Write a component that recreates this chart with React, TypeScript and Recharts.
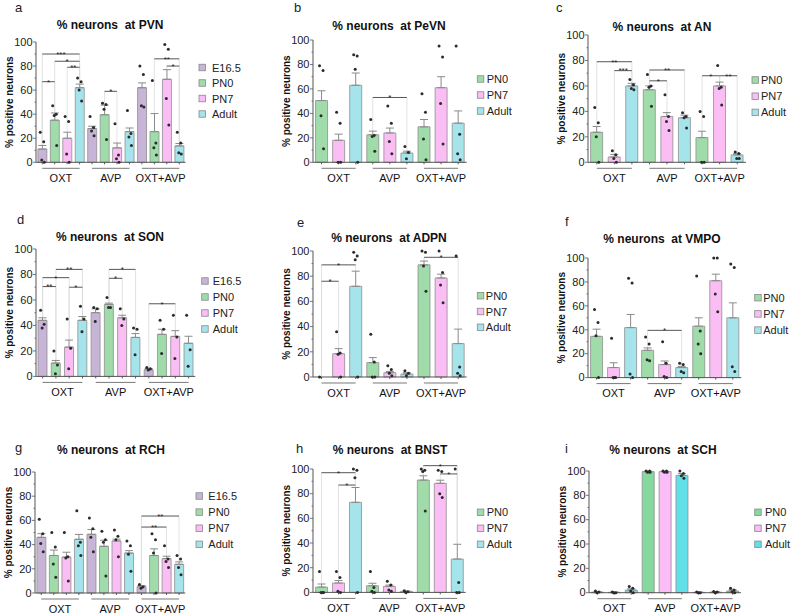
import React from "react";
import {
  ComposedChart,
  Bar,
  Cell,
  ErrorBar,
  Scatter,
  XAxis,
  YAxis,
  ReferenceLine,
} from "recharts";

// categories
const GROUPS = ["OXT", "AVP", "OXT+AVP"];
const AGES_4 = ["E16.5", "PN0", "PN7", "Adult"];
const AGES_3 = ["PN0", "PN7", "Adult"];
const Y_TICKS = [0, 10, 20, 30, 40, 50, 60, 70, 80, 90, 100];

// a: PVN  (rows = groups, cols = ages)
const pvnMean = [[11, 35, 20, 62], [28, 39.5, 12, 25.5], [62, 25.5, 69, 13.6]];
const pvnSem = [[3, 6, 5, 3], [2, 8, 4, 3], [4, 15, 8, 2]];
const pvnPts = [
  [[25, 17, 2, 0], [47, 40, 39, 14], [38, 34, 7, 0], [70, 67, 60, 51]],
  [[38, 29, 26, 22], [49, 48, 44, 19], [32, 6, 3, 0], [43, 24, 21, 14]],
  [[80, 73, 47, 46], [68, 16, 12, 6], [98, 94, 53, 31], [25, 16, 8, 7]],
];
const pvnSig: [number, number, number, number, string][] = [
  [0, 0, 3, 90, "***"], [0, 0, 1, 67, "*"], [0, 1, 3, 84, "*"], [0, 2, 3, 79, "**"],
  [1, 1, 2, 59, "*"], [2, 1, 3, 86, "**"], [2, 2, 3, 80, "*"],
];

// b: PeVN
const pevnMean = [[50.5, 18, 63], [22.5, 24, 7.6], [29, 61, 32]];
const pevnSem = [[8, 5, 10], [3, 4, 1.5], [6, 9, 10]];
const pevnPts = [
  [[79, 75, 38, 11], [41, 32, 0, 0], [88, 87, 76, 0]],
  [[35, 22, 21, 9], [46, 32, 17, 7], [13, 8, 3]],
  [[56, 41, 19, 2], [95, 86, 48, 15], [95, 23, 7, 2]],
];
const pevnSig: [number, number, number, number, string][] = [[1, 0, 2, 53, "*"]];

// c: AN
const anMean = [[23.6, 4.2, 60], [57, 36, 35], [19.4, 60, 5.8]];
const anSem = [[4.5, 2, 2], [3, 3, 2], [5, 3, 1]];
const anPts = [
  [[43, 31, 20, 0], [9, 6, 3, 0], [65, 61, 58, 57]],
  [[69, 60, 59, 44], [53, 36, 32, 25], [39, 36, 35, 27]],
  [[40, 36, 0, 0], [76, 59, 58, 45], [8, 7, 3, 3]],
];
const anSig: [number, number, number, number, string][] = [
  [0, 0, 2, 79, "**"], [0, 1, 2, 72, "***"], [1, 0, 1, 64, "*"], [1, 0, 2, 72.5, "**"],
  [2, 0, 1, 68, "*"], [2, 1, 2, 68, "**"],
];

// d: SON
const sonMean = [[44, 10.5, 23, 44], [50, 56.5, 46, 30.6], [5.2, 33, 31.4, 26]];
const sonSem = [[2, 2, 5.5, 3], [3, 1, 2, 3], [1, 4, 4.5, 5.5]];
const sonPts = [
  [[52, 41, 38], [20, 9, 2], [45, 22, 6], [55, 45, 35]],
  [[54, 53, 43], [62, 54, 54], [53, 45, 40], [38, 37, 17]],
  [[7, 6, 5], [44, 37, 18], [48, 31, 14], [48, 21, 8]],
];
const sonSig: [number, number, number, number, string][] = [
  [0, 0, 1, 70.5, "**"], [0, 0, 2, 77.5, "*"], [0, 1, 3, 84, "**"], [0, 2, 3, 70, "*"],
  [1, 1, 2, 77, "*"], [1, 1, 3, 84, "*"], [2, 0, 2, 57, "*"],
];

// e: ADPN
const adpnMean = [[0, 18.5, 72], [11.4, 3.4, 2.4], [89, 78.6, 26.5]];
const adpnSem = [[0, 4, 12], [4, 1, 1], [3, 3, 11.5]];
const adpnPts = [
  [[0], [36, 19, 18, 0], [99, 96, 93, 0]],
  [[34, 12, 0, 0], [9, 6, 3, 1], [5, 3, 1]],
  [[100, 99, 88, 68], [100, 83, 73, 59], [96, 8, 3, 1]],
];
const adpnSig: [number, number, number, number, string][] = [
  [0, 0, 2, 89, "*"], [0, 0, 1, 76, "*"], [2, 0, 2, 95, "*"],
];

// f: VMPO
const vmpoMean = [[34.5, 8.4, 41.8], [22.8, 10.9, 8.4], [43, 81, 50]];
const vmpoSem = [[6, 4, 11], [2, 3, 1], [7, 5.5, 12.5]];
const vmpoPts = [
  [[57, 46, 35, 0], [33, 0, 0, 0], [83, 79, 3, 0]],
  [[34, 28, 15, 14], [30, 12, 1, 0], [12, 11, 5, 4]],
  [[85, 39, 28, 20], [100, 100, 70, 55], [95, 92, 9, 5]],
];
const vmpoSig: [number, number, number, number, string][] = [[1, 0, 2, 39.5, "*"]];

// g: RCH
const rchMean = [[46, 31, 29.7, 44.4], [48.5, 38.6, 43, 33], [5.2, 31, 28.4, 23.7]];
const rchSem = [[3, 4.5, 4, 4], [4, 5, 1.5, 2], [1, 5.5, 2, 2]];
const rchPts = [
  [[61, 49, 41, 34], [50, 38, 24, 13], [50, 30, 29, 10], [68, 42, 39, 31]],
  [[62, 53, 46, 34], [51, 44, 42, 14], [52, 47, 44, 30], [43, 39, 32, 18]],
  [[7, 5, 4], [49, 44, 33, 0], [39, 28, 26, 21], [31, 28, 21, 15]],
];
const rchSig: [number, number, number, number, string][] = [
  [2, 0, 3, 63.6, "**"], [2, 0, 2, 54.5, "**"],
];

// h: BNST
const bnstMean = [[4.3, 7.6, 73], [5.4, 4.9, 0.8], [91, 88.4, 27]];
const bnstSem = [[2.5, 2, 12], [2, 1, 0.3], [3.5, 2.5, 12]];
const bnstPts = [
  [[17, 0, 0, 0], [17, 12, 1, 0], [100, 99, 93, 0]],
  [[17, 4, 1, 0], [9, 6, 2, 1], [1.3, 0.5, 0]],
  [[100, 99, 98, 66], [99, 98, 80, 77], [100, 8, 0, 0]],
];
const bnstSig: [number, number, number, number, string][] = [
  [0, 0, 2, 97, "*"], [0, 1, 2, 87, "*"], [2, 0, 2, 102.7, "*"], [2, 1, 2, 96, "*"],
];

// i: SCH
const schMean = [[0.5, 0.3, 2.2], [99.5, 99.5, 96.4], [0.3, 0.5, 1.4]];
const schSem = [[0.3, 0.2, 1], [0.3, 0.3, 1.5], [0.2, 0.3, 1]];
const schPts = [
  [[1.4, 0.5, 0], [0.5, 0, 0], [5, 3.6, 1.4, 0]],
  [[100, 100, 99, 99], [100, 100, 99, 99], [100, 98, 96, 94]],
  [[0.5, 0, 0], [1, 0.5, 0], [3.6, 2.2, 0.8, 0]],
];
const schSig: [number, number, number, number, string][] = [];

const COLORS: Record<string, string> = {
  "E16.5": "#c8b4d7",
  PN0: "#a0dcaa",
  PN7: "#fabef5",
  Adult: "#a5e4eb",
};
const COLORS_SCH: Record<string, string> = {
  PN0: "#86d99e",
  PN7: "#fcbcf7",
  Adult: "#62e0ea",
};

const JITTER = [-2, 1.5, -0.5, 2, -1];
const FONT = "'Liberation Sans', Arial, sans-serif";

interface PanelSpec {
  letter: string;
  letterAt: [number, number];
  title: string;
  titleAt: [number, number];
  box: [number, number, number, number]; // plot left, right, y(100), y(0)
  legend: [number, number, number, number]; // square x, first row y, step, text dx
  ages: string[];
  mean: number[][];
  sem: number[][];
  pts: number[][][];
  sig: [number, number, number, number, string][];
  colors?: Record<string, string>;
}

const PANELS: PanelSpec[] = [
  { letter: "a", letterAt: [15, 12], title: "% neurons  at PVN", titleAt: [110, 29], box: [36, 185.5, 42, 162.3], legend: [199, 67.5, 15.5, 13], ages: AGES_4, mean: pvnMean, sem: pvnSem, pts: pvnPts, sig: pvnSig },
  { letter: "b", letterAt: [294, 12], title: "% neurons  at PeVN", titleAt: [389, 30], box: [313.3, 467, 40, 162.3], legend: [477.3, 79, 16, 9.4], ages: AGES_3, mean: pevnMean, sem: pevnSem, pts: pevnPts, sig: pevnSig },
  { letter: "c", letterAt: [556, 12], title: "% neurons  at AN", titleAt: [662, 31], box: [588, 746, 35, 162.3], legend: [752, 80, 16.2, 9], ages: AGES_3, mean: anMean, sem: anSem, pts: anPts, sig: anSig },
  { letter: "d", letterAt: [17, 224], title: "% neurons  at SON", titleAt: [110, 241], box: [35.7, 195, 249.3, 376.7], legend: [201.7, 281, 16, 11], ages: AGES_4, mean: sonMean, sem: sonSem, pts: sonPts, sig: sonSig },
  { letter: "e", letterAt: [297, 227], title: "% neurons  at ADPN", titleAt: [389, 242], box: [313.3, 467, 250.7, 376.7], legend: [477.3, 295.7, 15.8, 8.5], ages: AGES_3, mean: adpnMean, sem: adpnSem, pts: adpnPts, sig: adpnSig },
  { letter: "f", letterAt: [565, 226], title: "% neurons  at VMPO", titleAt: [662, 243], box: [588, 741.3, 257.7, 377.3], legend: [754.7, 297.7, 16.2, 8.5], ages: AGES_3, mean: vmpoMean, sem: vmpoSem, pts: vmpoPts, sig: vmpoSig },
  { letter: "g", letterAt: [15, 452], title: "% neurons  at RCH", titleAt: [111, 454], box: [34.7, 185, 471.7, 592.7], legend: [196, 496, 16.1, 12.3], ages: AGES_4, mean: rchMean, sem: rchSem, pts: rchPts, sig: rchSig },
  { letter: "h", letterAt: [296, 453], title: "% neurons  at BNST", titleAt: [390, 454], box: [313.3, 466, 469.3, 592.7], legend: [477.3, 512.3, 16, 9.4], ages: AGES_3, mean: bnstMean, sem: bnstSem, pts: bnstPts, sig: bnstSig },
  { letter: "i", letterAt: [565, 453], title: "% neurons  at SCH", titleAt: [663, 454], box: [589, 741, 471, 592.7], legend: [754.7, 512.3, 16, 10.3], ages: AGES_3, mean: schMean, sem: schSem, pts: schPts, sig: schSig, colors: COLORS_SCH },
];

const YTick = (props: any) => {
  const { x, y, payload } = props;
  const major = payload.value % 20 === 0;
  return (
    <g>
      <line x1={x - (major ? 3 : 1.5)} x2={x} y1={y} y2={y} stroke="#555" strokeWidth={0.8} />
      {major && (
        <text x={x - 3.5} y={y + 3.8} textAnchor="end" fontSize={11} fill="#222" fontFamily={FONT}>
          {payload.value}
        </text>
      )}
    </g>
  );
};

const YLabel = (props: any) => {
  const vb = props.viewBox;
  const x = vb.x + vb.width - 23;
  const y = vb.y + vb.height / 2;
  return (
    <text x={x} y={y} transform={`rotate(-90 ${x} ${y})`} textAnchor="middle" fontSize={10} fontWeight="bold" fill="#111" fontFamily={FONT}>
      % positive neurons
    </text>
  );
};

const dot = (k: number) => (props: any) => {
  const { cx, cy } = props;
  if (cx == null || cy == null || Number.isNaN(cy)) return <g />;
  return <circle cx={cx + JITTER[k]} cy={cy} r={1.5} fill="#2b2b2b" />;
};

function Panel({ spec }: { spec: PanelSpec }) {
  const [x0, x1, yTop, yBot] = spec.box;
  const yAxisW = 40;
  const mt = 14;
  const mb = 24;
  const xAxisH = 4;
  const mr = 4;
  const left = x0 - yAxisW;
  const top = yTop - mt;
  const width = x1 - left + mr;
  const height = yBot - top + mb + xAxisH;
  const ppu = (yBot - yTop) / 100;
  const colors = spec.colors ?? COLORS;
  const slot = (g: number, s: number) => `${g}-${s}`;

  const rows: any[] = [];
  spec.mean.forEach((grp, g) =>
    grp.forEach((v, s) => {
      const row: any = { slot: slot(g, s), age: spec.ages[s], v, err: [0, spec.sem[g][s]] };
      spec.pts[g][s].forEach((p, k) => (row["p" + k] = p));
      rows.push(row);
    })
  );
  const nAges = spec.ages.length;
  const underY = -6 / ppu;

  return (
    <div style={{ position: "absolute", left, top, width, height }}>
      <ComposedChart
        width={width}
        height={height}
        data={rows}
        margin={{ top: mt, right: mr, bottom: mb, left: 0 }}
        barCategoryGap="15%"
      >
        <XAxis
          dataKey="slot"
          type="category"
          height={xAxisH}
          interval={0}
          tickSize={2}
          tickFormatter={() => ""}
          stroke="#555"
        />
        <YAxis
          type="number"
          domain={[0, 100]}
          ticks={Y_TICKS}
          interval={0}
          width={yAxisW}
          tickSize={0}
          tickMargin={0}
          tickLine={false}
          stroke="#555"
          tick={YTick}
          label={YLabel}
        />
        {spec.sig.map(([g, s1, s2, y], i) =>
          [s1, s2].map((s) => (
            <ReferenceLine
              key={`drop-${i}-${s}`}
              segment={[{ x: slot(g, s), y }, { x: slot(g, s), y: spec.mean[g][s] + spec.sem[g][s] }]}
              stroke="#dadada"
              strokeWidth={0.8}
              ifOverflow="visible"
            />
          ))
        )}
        <Bar dataKey="v" isAnimationActive={false}>
          {rows.map((r) => (
            <Cell key={r.slot} fill={colors[r.age]} stroke="#8f8f8f" strokeWidth={0.8} />
          ))}
          <ErrorBar dataKey="err" width={4} stroke="#8a8a8a" strokeWidth={1} direction="y" />
        </Bar>
        {JITTER.map((_, k) => (
          <Scatter key={k} dataKey={"p" + k} isAnimationActive={false} shape={dot(k)} />
        ))}
        {spec.sig.map(([g, s1, s2, y, stars], i) => (
          <ReferenceLine
            key={`sig-${i}`}
            segment={[{ x: slot(g, s1), y }, { x: slot(g, s2), y }]}
            stroke="#555"
            strokeWidth={1}
            ifOverflow="visible"
            label={{ value: stars, position: "center", fill: "#222", fontSize: 8 }}
          />
        ))}
        {GROUPS.map((name, g) => (
          <ReferenceLine
            key={`grp-${g}`}
            segment={[{ x: slot(g, 0), y: underY }, { x: slot(g, nAges - 1), y: underY }]}
            stroke="#777"
            strokeWidth={1}
            ifOverflow="visible"
            label={{ value: name, position: "bottom", offset: 6, fill: "#111", fontSize: 11 }}
          />
        ))}
      </ComposedChart>
    </div>
  );
}

function Overlay() {
  return (
    <svg width={791} height={613} style={{ position: "absolute", left: 0, top: 0, pointerEvents: "none" }} fontFamily={FONT}>
      {PANELS.map((p) => {
        const colors = p.colors ?? COLORS;
        const [lx, ly, step, dx] = p.legend;
        return (
          <g key={p.letter}>
            <text x={p.letterAt[0]} y={p.letterAt[1]} fontSize={13} fill="#222">
              {p.letter}
            </text>
            <text x={p.titleAt[0]} y={p.titleAt[1]} fontSize={12} fontWeight="bold" textAnchor="middle" fill="#111" style={{ whiteSpace: "pre" }}>
              {p.title}
            </text>
            {p.ages.map((age, i) => (
              <g key={age}>
                <rect x={lx} y={ly + i * step - 3.25} width={6.5} height={6.5} fill={colors[age]} stroke="#888" strokeWidth={0.8} />
                <text x={lx + dx} y={ly + i * step + 4} fontSize={11} fill="#222">
                  {age}
                </text>
              </g>
            ))}
          </g>
        );
      })}
    </svg>
  );
}

export default function App() {
  return (
    <div style={{ position: "absolute", left: 0, top: 0, width: 791, height: 613, background: "#fff", fontFamily: FONT }}>
      {PANELS.map((p) => (
        <Panel key={p.letter} spec={p} />
      ))}
      <Overlay />
    </div>
  );
}
